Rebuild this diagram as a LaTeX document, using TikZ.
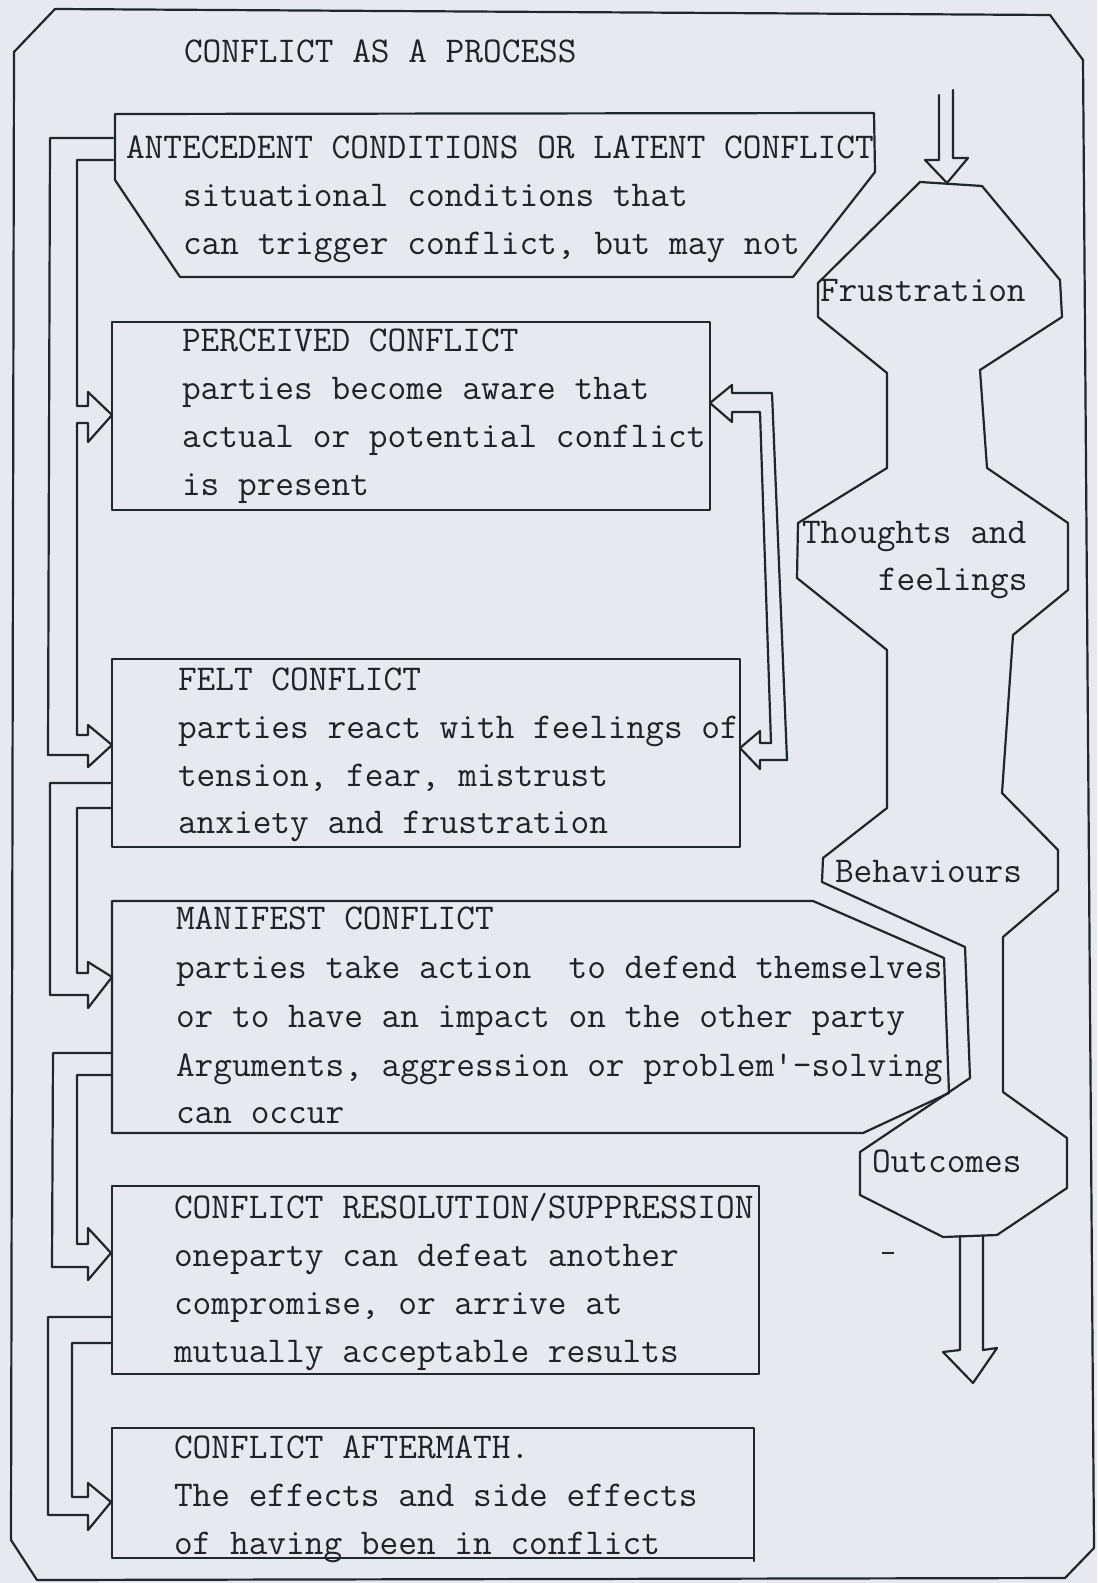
\documentclass[tikz,border=0pt]{standalone}
\usepackage{fontspec}
\definecolor{bgc}{RGB}{232,233,238}
\definecolor{ink}{RGB}{30,40,40}
\definecolor{txt}{RGB}{30,35,40}
\begin{document}
\begin{tikzpicture}[x=0.5pt,y=-0.5pt,
  ln/.style={draw=ink, line width=1.1pt, line join=round, line cap=round},
  tx/.style={anchor=base west, inner sep=0pt, outer sep=0pt, text=txt,
             font=\fontsize{18.15}{20}\selectfont\ttfamily},
]
% background / bounding box
\fill[bgc] (0,0) rectangle (1097,1583);
\useasboundingbox (0,0) rectangle (1097,1583);

% outer frame
\draw[ln] (55,9) -- (1050,15) -- (1083,60) -- (1094,1548) -- (1065,1578)
  -- (37,1580) -- (11,1540) -- (14,52) -- cycle;

% title
\node[tx] (title) at (184,63) {CONFLICT AS A PROCESS};

% ---------- left column boxes ----------
\draw[ln] (115,114) -- (874,113) -- (875,172) -- (793,277) -- (180,277) -- (115,180) -- cycle;
\node[tx] (a1) at (126,159) {ANTECEDENT CONDITIONS OR LATENT CONFLICT};
\node[tx] (a2) at (183,207) {situational conditions that};
\node[tx] (a3) at (183,255) {can trigger conflict, but may not};

\draw[ln] (112,322) rectangle (710,510);
\node[tx] (p1) at (182,351) {PERCEIVED CONFLICT};
\node[tx] (p2) at (182,399) {parties become aware that};
\node[tx] (p3) at (182,447) {actual or potential conflict};
\node[tx] (p4) at (182,495) {is present};

\draw[ln] (112,659) rectangle (740,847);
\node[tx] (f1) at (178,690) {FELT CONFLICT};
\node[tx] (f2) at (178,738) {parties react with feelings of};
\node[tx] (f3) at (178,786) {tension, fear, mistrust};
\node[tx] (f4) at (178,833) {anxiety and frustration};

\draw[ln] (112,901) -- (813,901) -- (944,958) -- (949,1093) -- (863,1133) -- (112,1133) -- cycle;
\node[tx] (m1) at (176,929) {MANIFEST CONFLICT};
\node[tx] (m2) at (176,978) {parties take action\ \ to defend themselves};
\node[tx] (m3) at (176,1027) {or to have an impact on the other party};
\node[tx] (m4) at (176,1076) {Arguments, aggression or problem'-solving};
\node[tx] (m5) at (176,1123) {can occur};

\draw[ln] (112,1186) rectangle (759,1374);
\node[tx] (r1) at (174,1218) {CONFLICT RESOLUTION/SUPPRESSION};
\node[tx] (r2) at (174,1266) {oneparty can defeat another};
\node[tx] (r3) at (174,1314) {compromise, or arrive at};
\node[tx] (r4) at (174,1362) {mutually acceptable results};

\draw[ln] (112,1428) rectangle (754,1558);
\draw[ln] (754,1558) -- (754,1561);
\node[tx] (t1) at (174,1458) {CONFLICT AFTERMATH.};
\node[tx] (t2) at (174,1506) {The effects and side effects};
\node[tx] (t3) at (174,1554) {of having been in conflict};

% ---------- left hollow connectors ----------
\draw[ln] (113,138) -- (50,138) -- (48,755) -- (88,755) -- (88,767) -- (112,745)
  -- (88,725) -- (88,735) -- (77,735) -- (77,423) -- (88,423) -- (88,442)
  -- (112,415) -- (88,392) -- (88,406) -- (77,406) -- (77,160) -- (113,160);
\draw[ln] (112,783) -- (50,783) -- (50,995) -- (88,995) -- (88,1008) -- (112,977)
  -- (88,962) -- (88,973) -- (77,973) -- (77,808) -- (112,808);
\draw[ln] (112,1053) -- (53,1053) -- (52,1267) -- (88,1267) -- (88,1280) -- (111,1253)
  -- (88,1228) -- (88,1244) -- (77,1244) -- (77,1075) -- (112,1075);
\draw[ln] (112,1317) -- (48,1317) -- (48,1515) -- (88,1515) -- (88,1530) -- (111,1502)
  -- (88,1483) -- (88,1497) -- (72,1497) -- (72,1343) -- (112,1343);

% ---------- right hollow connector (perceived <-> felt) ----------
\draw[ln] (710,403) -- (732,385) -- (732,393) -- (772,393) -- (787,760) -- (760,760)
  -- (760,769) -- (740,748) -- (760,731) -- (760,743) -- (771,743) -- (760,412)
  -- (732,412) -- (732,422) -- cycle;

% ---------- right column ----------
\draw[ln] (920,182) -- (818,283) -- (818,317) -- (887,373) -- (887,468) -- (798,523)
  -- (797,578) -- (887,650) -- (887,808) -- (823,858) -- (822,882) -- (965,947)
  -- (970,1078) -- (860,1152) -- (860,1195) -- (943,1237) -- (997,1235) -- (1067,1188)
  -- (1067,1138) -- (1003,1092) -- (1003,937) -- (1058,890) -- (1058,850) -- (1002,793)
  -- (1013,635) -- (1068,590) -- (1068,523) -- (987,468) -- (980,370) -- (1062,317)
  -- (1060,280) -- (982,186) -- cycle;
\node[tx] (fr) at (820,302) {Frustration};
\node[tx] (th1) at (802,543) {Thoughts and};
\node[tx] (th2) at (878,590) {feelings};
\node[tx] (be) at (835,882) {Behaviours};
\node[tx] (ou) at (872,1172) {Outcomes};

% top arrow
\draw[ln] (939,95) -- (939,160) -- (925,160) -- (947,183) -- (968,158) -- (953,158) -- (953,90);
% bottom arrow
\draw[ln] (960,1236) -- (960,1350) -- (943,1352) -- (973,1383) -- (997,1348) -- (983,1350) -- (983,1236);
% stray mark
\draw[draw=ink, line width=0.8pt] (882,1253) -- (894,1253);
\end{tikzpicture}
\end{document}
